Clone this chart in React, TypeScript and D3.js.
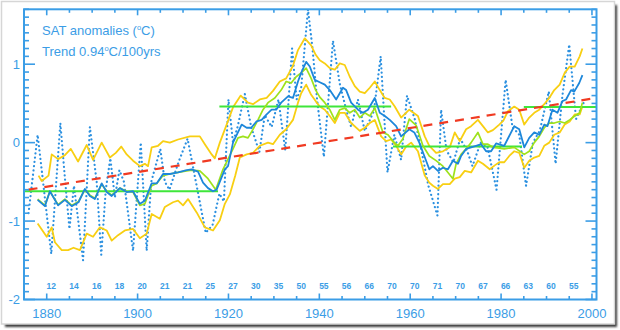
import React from "react";
import * as d3 from "d3";

// ---------- data ----------
const xTickYears = [1880, 1900, 1920, 1940, 1960, 1980, 2000];
const yTickValues = [-2, -1, 0, 1];
const countYears = [1881, 1886, 1891, 1896, 1901, 1906, 1911, 1916, 1921, 1926, 1931, 1936, 1941, 1946, 1951, 1956, 1961, 1966, 1971, 1976, 1981, 1986, 1991, 1996];
const countLabels = [12, 14, 16, 18, 20, 21, 21, 25, 27, 30, 35, 50, 55, 56, 66, 70, 70, 71, 70, 67, 66, 63, 60, 55];

// annual anomalies (dotted)
const annualSeries: [number, number][] = [
  [1876, -0.9], [1878, 0.1], [1879, -0.4], [1881, -1.42], [1883, 0.25], [1884, -0.45], [1885, -1.1],
  [1886, -0.55], [1888, -1.5], [1889.5, 0.2], [1891, -0.5], [1892, -1.43], [1893, -0.6], [1894, -0.2],
  [1895, -0.7], [1896, -0.35], [1897, -0.5], [1899, -1.38], [1900.7, 0.0], [1902, -1.38], [1903, -0.5],
  [1905, -0.08], [1906, -0.5], [1907, -0.6], [1909, -0.25], [1911, 0.05], [1913, -0.55], [1915, -1.15],
  [1916.5, -1.05], [1918, -0.65], [1919, -0.75], [1920, 0.55], [1921, 0.0], [1922, 0.2], [1923.6, 0.62],
  [1925, 0.2], [1926.8, -0.12], [1928, 0.35], [1929.5, 0.2], [1931, 0.55], [1932.5, -0.1], [1934, 1.2],
  [1935, 0.55], [1936, 0.7], [1937.5, 1.7], [1938.5, 1.2], [1939.5, 0.55], [1941, -0.18], [1943, 1.3],
  [1944.5, 0.75], [1946, 0.4], [1947, 0.2], [1948.5, 0.55], [1950, 0.15], [1952, 0.4], [1953.5, 1.1],
  [1955, -0.38], [1956.5, 0.1], [1958, -0.22], [1959.3, 0.6], [1961, 0.3], [1962.3, -0.05], [1964, -0.55],
  [1966, -0.93], [1966.8, 0.42], [1968, -0.1], [1969.5, -0.25], [1971, 0.05], [1972.5, -0.1], [1973.7, -0.3],
  [1975.5, 0.0], [1977, -0.05], [1979, -0.6], [1981, 0.8], [1982.5, 0.2], [1984, 0.1], [1985.5, -0.55],
  [1987, 0.0], [1988.5, 0.15], [1990.5, 0.65], [1992, -0.27], [1993.5, 0.6], [1995, 1.25], [1996.5, 0.3],
  [1998.5, 0.55],
];

// smoothed mean (solid blue)
const meanSeries: [number, number][] = [
  [1878, -0.73], [1879.6, -0.81], [1880.7, -0.62], [1882.5, -0.8], [1884, -0.73], [1885.5, -0.81],
  [1887, -0.76], [1888.4, -0.59], [1889.5, -0.68], [1890.6, -0.72], [1892.1, -0.52], [1893.2, -0.63],
  [1894.3, -0.68], [1896.1, -0.58], [1897.6, -0.63], [1899, -0.62], [1900.5, -0.78], [1901.6, -0.74],
  [1903.1, -0.52], [1904.2, -0.52], [1905.6, -0.4], [1907.1, -0.4], [1908.9, -0.38], [1910.8, -0.35],
  [1911.9, -0.34], [1913.3, -0.37], [1914.4, -0.51], [1915.5, -0.58], [1916.6, -0.62], [1917.4, -0.6],
  [1919.2, -0.34], [1919.9, -0.3], [1921, 0.0], [1922.9, 0.23], [1924, 0.19], [1925, 0.19], [1926.2, 0.27],
  [1927.3, 0.29], [1928.4, 0.36], [1929.5, 0.42], [1930.5, 0.42], [1931.6, 0.51], [1933.1, 0.59],
  [1934.2, 0.57], [1935.3, 0.78], [1936, 0.89], [1937.1, 1.03], [1937.9, 0.97], [1939, 0.8], [1940.1, 0.77],
  [1941.2, 0.74], [1942.3, 0.67], [1943.7, 0.55], [1945.2, 0.7], [1945.9, 0.67], [1947, 0.51], [1948.5, 0.42],
  [1949.6, 0.38], [1950.7, 0.42], [1952.2, 0.57], [1953.3, 0.38], [1954.4, 0.34], [1955.5, 0.29],
  [1956.9, 0.21], [1958, 0.08], [1959.8, 0.17], [1960.9, 0.13], [1962, 0.0], [1963.1, -0.17], [1964.2, -0.34],
  [1965, -0.3], [1966.1, -0.36], [1967.2, -0.32], [1968.3, -0.34], [1969.4, -0.23], [1970.5, -0.27],
  [1971.2, -0.17], [1972.3, -0.08], [1973.4, -0.06], [1974.5, -0.04], [1975.6, -0.02], [1976.7, -0.11],
  [1977.8, -0.11], [1978.9, -0.01], [1980.7, -0.04], [1982.9, 0.21], [1984, 0.17], [1985.1, -0.06],
  [1986.2, 0.06], [1987.3, 0.13], [1988.4, 0.1], [1989.5, 0.23], [1990.2, 0.21], [1991.3, 0.42],
  [1992.4, 0.38], [1993.5, 0.53], [1994.3, 0.55], [1995.4, 0.67], [1996.1, 0.65], [1997.2, 0.76], [1997.9, 0.86],
];

// second smoothed estimate (lime)
const altSeries: [number, number][] = [
  [1878, -0.72], [1879.6, -0.8], [1880.7, -0.62], [1882.5, -0.79], [1884, -0.72], [1885.5, -0.8],
  [1887, -0.75], [1888.4, -0.6], [1889.5, -0.67], [1890.6, -0.71], [1892.1, -0.53], [1893.2, -0.62],
  [1894.3, -0.67], [1896.1, -0.58], [1897.6, -0.62], [1899, -0.63], [1900.5, -0.8], [1901.6, -0.78],
  [1903.1, -0.55], [1904.2, -0.52], [1905.6, -0.42], [1907.1, -0.4], [1908.9, -0.38], [1910.8, -0.36],
  [1911.9, -0.35], [1913.7, -0.36], [1915.5, -0.46], [1917.2, -0.6], [1918.8, -0.34], [1921, -0.08],
  [1922.1, 0.06], [1923.2, 0.08], [1924.3, 0.06], [1925.4, 0.17], [1926.5, 0.29], [1927.6, 0.42],
  [1928.7, 0.51], [1930.2, 0.57], [1931.6, 0.67], [1932.7, 0.78], [1933.8, 0.76], [1934.9, 0.84],
  [1936, 0.89], [1937.1, 0.95], [1938.2, 0.82], [1939.2, 0.67], [1940.1, 0.58], [1941.2, 0.51],
  [1942.3, 0.42], [1943.4, 0.29], [1944.5, 0.42], [1945.6, 0.44], [1946.7, 0.38], [1947.8, 0.42],
  [1948.9, 0.32], [1950, 0.38], [1951.1, 0.34], [1952.2, 0.44], [1953.3, 0.25], [1954, 0.13], [1955.1, 0.1],
  [1956.2, 0.02], [1957.3, -0.04], [1958.4, 0.05], [1959.8, 0.3], [1961.3, 0.22], [1962.8, -0.04],
  [1964.2, -0.17], [1965.7, -0.23], [1967.2, -0.3], [1968.3, -0.38], [1969.4, -0.46], [1970.1, -0.27],
  [1971.2, -0.15], [1972.3, -0.08], [1973.4, 0.0], [1974.9, 0.13], [1976, -0.02], [1977.1, -0.02],
  [1978.2, -0.06], [1979.6, -0.07], [1980.7, -0.08], [1982.9, -0.06], [1985.1, -0.15], [1986.2, -0.11],
  [1987.3, 0.0], [1988.4, 0.08], [1989.5, 0.19], [1990.6, 0.25], [1991.7, 0.25], [1992.9, 0.27],
  [1994, 0.25], [1995.1, 0.29], [1996.2, 0.34], [1997.3, 0.38], [1997.9, 0.51],
];

// upper and lower bounds (yellow)
const upperSeries: [number, number][] = [
  [1878.2, -0.42], [1878.9, -0.49], [1880.4, -0.42], [1881.1, -0.15], [1882.5, -0.21], [1884, -0.16],
  [1885.3, -0.08], [1886.9, -0.24], [1888.8, -0.03], [1890.2, -0.22], [1892.1, 0.0], [1893.9, -0.19],
  [1895.2, -0.13], [1896.4, -0.05], [1897.6, -0.15], [1899, -0.23], [1900.5, -0.3], [1901.6, -0.27],
  [1902.3, -0.3], [1903.1, -0.06], [1904.5, -0.04], [1905.6, 0.02], [1907.1, 0.0], [1908.9, 0.04],
  [1911.5, 0.08], [1913.7, 0.08], [1914.8, -0.02], [1916.3, -0.15], [1917, -0.2], [1918.1, 0.0],
  [1919.6, 0.23], [1921, 0.45], [1922.7, 0.6], [1924.3, 0.51], [1925.4, 0.49], [1926.9, 0.55],
  [1928.4, 0.57], [1929.8, 0.66], [1931.3, 0.78], [1932.7, 0.82], [1934.2, 0.98], [1935.3, 1.18],
  [1936.8, 1.33], [1938.2, 1.24], [1939.2, 1.12], [1940.1, 1.05], [1941.2, 1.01], [1942.3, 0.95],
  [1943.4, 0.93], [1944.5, 1.01], [1945.6, 0.99], [1946.7, 0.84], [1947.8, 0.72], [1948.9, 0.65],
  [1950, 0.63], [1951.1, 0.7], [1952.2, 0.78], [1953.3, 0.67], [1954.4, 0.57], [1955.5, 0.55],
  [1956.6, 0.46], [1958, 0.32], [1959.8, 0.42], [1961.7, 0.34], [1963.2, 0.08], [1964.2, -0.04],
  [1965.7, -0.13], [1967.2, -0.11], [1968.7, -0.06], [1969.8, 0.13], [1970.9, 0.02], [1972.3, 0.17],
  [1973.4, 0.21], [1974.9, 0.29], [1976, 0.21], [1977.1, 0.13], [1978.2, 0.16], [1979.6, 0.23],
  [1980.5, 0.28], [1981.5, 0.4], [1982.9, 0.46], [1984, 0.42], [1985.1, 0.23], [1986.2, 0.32],
  [1987.3, 0.38], [1988.4, 0.42], [1989.5, 0.49], [1990.6, 0.57], [1991.7, 0.67], [1992.9, 0.74],
  [1994, 0.89], [1995.1, 0.97], [1996.2, 0.97], [1997.3, 1.1], [1997.9, 1.2],
];

const lowerSeries: [number, number][] = [
  [1878, -1.03], [1880, -1.2], [1881.1, -1.08], [1881.8, -1.27], [1883.3, -1.37], [1884.7, -1.37],
  [1885.9, -1.34], [1887.3, -1.37], [1888.8, -1.16], [1890.2, -1.2], [1891.7, -1.08], [1893.2, -1.12],
  [1894.3, -1.25], [1895.7, -1.18], [1897.2, -1.12], [1899, -1.1], [1900.5, -1.22], [1902, -1.16],
  [1903.1, -0.91], [1904.9, -0.97], [1906, -0.82], [1907.8, -0.76], [1908.9, -0.74], [1910, -0.8],
  [1911.1, -0.72], [1913, -0.89], [1914.8, -1.08], [1916.6, -1.12], [1918.1, -0.99], [1919.2, -0.78],
  [1920.3, -0.66], [1921.5, -0.42], [1922.5, -0.19], [1924, -0.15], [1925.4, -0.13], [1926.9, -0.04],
  [1928.7, 0.0], [1929.8, -0.02], [1931.3, 0.1], [1932.7, 0.17], [1934.2, 0.29], [1935.3, 0.51],
  [1936, 0.63], [1937.1, 0.74], [1938.2, 0.61], [1939.3, 0.52], [1940.1, 0.46], [1941.2, 0.42],
  [1942.3, 0.34], [1943.4, 0.25], [1944.5, 0.38], [1945.6, 0.38], [1947, 0.25], [1948.9, 0.15],
  [1950, 0.19], [1951.1, 0.25], [1952.2, 0.29], [1953.6, 0.08], [1954.7, 0.02], [1955.8, 0.04],
  [1956.9, -0.04], [1958, -0.15], [1959.1, -0.05], [1960.2, 0.0], [1961.7, -0.11], [1963.2, -0.42],
  [1964.2, -0.51], [1965, -0.55], [1966.1, -0.59], [1967.2, -0.53], [1968.7, -0.53], [1969.8, -0.46],
  [1970.9, -0.44], [1972, -0.36], [1973.4, -0.38], [1974.9, -0.23], [1976, -0.27], [1977.5, -0.34],
  [1978.6, -0.29], [1979.6, -0.25], [1980.7, -0.25], [1981.8, -0.17], [1982.9, -0.11], [1984, -0.13],
  [1985.1, -0.32], [1986.2, -0.23], [1987.3, -0.19], [1988.4, -0.17], [1989.5, -0.04], [1990.6, 0.0],
  [1991.7, 0.1], [1992.9, 0.13], [1994, 0.23], [1995.1, 0.27], [1996.2, 0.36], [1997.3, 0.36], [1997.9, 0.46],
];

// regime means (bright green): [startYear, endYear, value]
const regimeMeans: [number, number, number][] = [
  [1875, 1917.7, -0.62],
  [1918, 1955.8, 0.46],
  [1956.2, 1984.6, -0.05],
  [1985, 2001, 0.455],
];

// linear trend (red dashed)
const trendLine: [number, number][] = [[1876, -0.6], [2001, 0.57]];

// ---------- drawing ----------
const W = 620, H = 330;
const AXIS = "#3b9de6";

export default function App() {
  const x = d3.scaleLinear().domain([1875, 2001]).range([24, 596.5]);
  const y = d3.scaleLinear().domain([-2, 1.7]).range([299.5, 9.3]);
  const line = d3.line<[number, number]>().x((d) => x(d[0])).y((d) => y(d[1]));

  const minorY = d3.range(-20, 18).map((i) => i / 10);
  const minorX = d3.range(1875, 2001, 5);
  const left = x.range()[0], right = x.range()[1];
  const top = y.range()[1], bottom = y.range()[0];

  return (
    <svg width={W} height={H} style={{ position: "absolute", left: 0, top: 0 }} fontFamily="'Liberation Sans', Arial, sans-serif">
      <defs>
        <filter id="sh" x="-5%" y="-5%" width="110%" height="110%">
          <feGaussianBlur stdDeviation="1.2" />
        </filter>
        <clipPath id="plot">
          <rect x={left} y={top} width={right - left} height={bottom - top} />
        </clipPath>
      </defs>
      <rect x={0} y={0} width={W} height={H} fill="#ffffff" />
      <rect x={5} y={5} width={612} height={322} fill="#3a3a3a" filter="url(#sh)" />
      <rect x={1.5} y={1.5} width={613} height={322.5} fill="#ffffff" stroke="#d6d6d6" strokeWidth={1.5} />

      {/* title */}
      <text x={42} y={35} fontSize={13} fill={AXIS}>
        SAT anomalies (<tspan fontSize={7.5} dy={-5}>o</tspan><tspan dy={5}>C)</tspan>
      </text>
      <text x={42} y={56} fontSize={13} fill={AXIS}>
        Trend 0.94<tspan fontSize={7.5} dy={-5}>o</tspan><tspan dy={5}>C/100yrs</tspan>
      </text>

      {/* data */}
      <g clipPath="url(#plot)" fill="none" strokeLinejoin="round">
        <path d={line(annualSeries) || ""} stroke="#2b90e0" strokeWidth={2.2} strokeDasharray="0.1 4.2" strokeLinecap="round" />
        <path d={line(upperSeries) || ""} stroke="#f8cf12" strokeWidth={1.8} />
        <path d={line(lowerSeries) || ""} stroke="#f8cf12" strokeWidth={1.8} />
        {regimeMeans.map((r, i) => (
          <line key={i} x1={x(r[0])} x2={x(r[1])} y1={y(r[2])} y2={y(r[2])} stroke="#3fe63a" strokeWidth={2} />
        ))}
        <path d={line(altSeries) || ""} stroke="#9ee21c" strokeWidth={1.7} />
        <path d={line(meanSeries) || ""} stroke="#1d87da" strokeWidth={1.8} />
        <path d={line(trendLine) || ""} stroke="#f03a22" strokeWidth={2.2} strokeDasharray="9 7" />
      </g>

      {/* axes */}
      <g stroke={AXIS} strokeWidth={1.6} fill="none">
        <rect x={left} y={top} width={right - left} height={bottom - top} strokeWidth={2} />
        {minorY.map((v) => {
          const major = Math.abs(v - Math.round(v)) < 1e-6;
          const len = major ? 11 : 5;
          return (
            <g key={"y" + v}>
              <line x1={left} x2={left + len} y1={y(v)} y2={y(v)} />
              <line x1={right} x2={right - len} y1={y(v)} y2={y(v)} />
            </g>
          );
        })}
        {minorX.map((yr) => {
          const major = xTickYears.includes(yr);
          const len = major ? 6 : 3.5;
          return (
            <g key={"x" + yr}>
              <line x1={x(yr)} x2={x(yr)} y1={top} y2={top + len} />
              <line x1={x(yr)} x2={x(yr)} y1={bottom} y2={bottom - len} />
            </g>
          );
        })}
      </g>

      {/* tick labels */}
      <g fill={AXIS} fontSize={13}>
        {yTickValues.map((v) => (
          <text key={v} x={20} y={y(v) + 4.5} textAnchor="end">{v}</text>
        ))}
        {xTickYears.map((yr) => (
          <text key={yr} x={x(yr)} y={318} textAnchor="middle">{yr}</text>
        ))}
      </g>
      <g fill={AXIS} fontSize={8.5} fontWeight="bold">
        {countYears.map((yr, i) => (
          <text key={yr} x={x(yr)} y={289} textAnchor="middle">{countLabels[i]}</text>
        ))}
      </g>
    </svg>
  );
}
